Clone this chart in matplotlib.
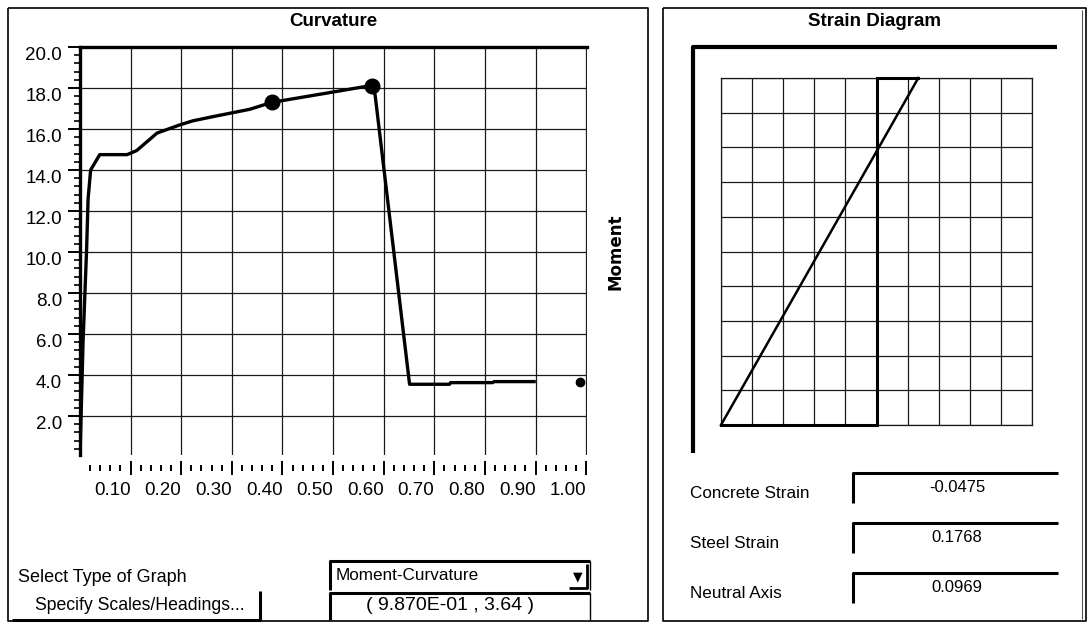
import matplotlib
matplotlib.use('Agg')
import matplotlib.pyplot as plt
from matplotlib.ticker import FixedLocator
from matplotlib.lines import Line2D

# ---------------- data ----------------
curvature = [0.0, 0.003, 0.006, 0.013, 0.016, 0.021, 0.039, 0.093, 0.112, 0.138,
             0.152, 0.197, 0.223, 0.262, 0.335, 0.379, 0.499, 0.558, 0.576, 0.583,
             0.651, 0.730, 0.732, 0.815, 0.818, 0.897]
moment = [0.0, 2.8, 5.6, 10.1, 12.6, 14.0, 14.75, 14.75, 14.95, 15.5,
          15.8, 16.2, 16.4, 16.6, 16.96, 17.3, 17.8, 18.05, 18.1, 17.65,
          3.55, 3.55, 3.63, 3.63, 3.68, 3.68]
marker_curvature = [0.379, 0.576]
marker_moment = [17.3, 18.1]
cursor_curvature = 0.987
cursor_moment = 3.64

x_ticks = [0.1, 0.2, 0.3, 0.4, 0.5, 0.6, 0.7, 0.8, 0.9, 1.0]
x_labels = ['0.10', '0.20', '0.30', '0.40', '0.50', '0.60', '0.70', '0.80', '0.90', '1.00']
y_ticks = [2.0, 4.0, 6.0, 8.0, 10.0, 12.0, 14.0, 16.0, 18.0, 20.0]
y_labels = ['2.0', '4.0', '6.0', '8.0', '10.0', '12.0', '14.0', '16.0', '18.0', '20.0']

concrete_strain = -0.0475
steel_strain = 0.1768
neutral_axis = 0.0969
strain_grid = list(range(0, 11))

graph_type = 'Moment-Curvature'

# ---------------- layout ----------------
W, H = 1091, 627
fig = plt.figure(figsize=(W / 100, H / 100), dpi=100)
fig.patch.set_facecolor('white')

SANS = ['Liberation Sans', 'DejaVu Sans']


def rect(x0, y0, x1, y1):
    return [x0 / W, 1 - y1 / H, (x1 - x0) / W, (y1 - y0) / H]


ui = fig.add_axes([0, 0, 1, 1])
ui.set_xlim(0, W)
ui.set_ylim(H, 0)
ui.axis('off')


def line(xs, ys, lw=1.0, color='black'):
    ui.add_line(Line2D(xs, ys, lw=lw, color=color, solid_capstyle='butt'))


# panel borders
line([8, 648, 648, 8, 8], [8, 8, 621, 621, 8], lw=1.2)
line([663, 1086, 1086, 663, 663], [8, 8, 621, 621, 8], lw=1.2)
line([1082, 1082], [10, 619], lw=0.8, color='#555555')

# titles
ui.text(333, 21, 'Curvature', ha='center', va='center', fontsize=13.5,
        fontweight='bold', family=SANS)
ui.text(874, 21, 'Strain Diagram', ha='center', va='center', fontsize=13.5,
        fontweight='bold', family=SANS)
ui.text(616, 252, 'Moment', ha='center', va='center', rotation=90,
        fontsize=12, fontweight='bold', family=['DejaVu Sans'])

# bottom controls (left panel)
ui.text(18, 577, 'Select Type of Graph', ha='left', va='center', fontsize=13,
        family=SANS)
ui.text(140, 606, 'Specify Scales/Headings...', ha='center', va='center',
        fontsize=12.7, family=SANS)
line([12, 260, 260], [620, 620, 591], lw=2.2)

# dropdown
line([330, 330, 590], [590, 561, 561], lw=2.2)
line([590, 590], [561, 590], lw=1.0)
ui.text(336, 576, graph_type, ha='left', va='center', fontsize=12.3, family=SANS)
line([587, 587, 569], [564, 588, 588], lw=2.0)
ui.text(578, 577, '\u25BC', ha='center', va='center', fontsize=9, family=['DejaVu Sans'])

# coordinates box
line([330, 330, 590], [620, 593, 593], lw=2.2)
line([590, 590], [593, 620], lw=1.0)
ui.text(450, 605, f'( {cursor_curvature:.3E} , {cursor_moment:.2f} )', ha='center',
        va='center', fontsize=14, family=SANS)

# right panel frame of strain diagram
line([693, 693, 1057], [453, 47, 47], lw=3)

# right panel text boxes
labels = ['Concrete Strain', 'Steel Strain', 'Neutral Axis']
values = [concrete_strain, steel_strain, neutral_axis]
for i, (lab, val) in enumerate(zip(labels, values)):
    top = 473 + 50 * i
    ui.text(690, top + 20, lab, ha='left', va='center', fontsize=12.3, family=SANS)
    line([853, 853, 1058], [top + 30, top, top], lw=2.2)
    ui.text(957, top + 15, f'{val:.4f}', ha='center', va='center', fontsize=12,
            family=SANS)

# ---------------- moment-curvature plot ----------------
ax = fig.add_axes(rect(80, 47, 587, 455))
ax.set_xlim(0, 1.0015)
ax.set_ylim(0.1, 20.0)
ax.plot(curvature, moment, color='black', lw=2.4, solid_joinstyle='round', zorder=3)
ax.plot(marker_curvature, marker_moment, 'o', ms=10.5, color='black', zorder=4)
ax.plot([cursor_curvature], [cursor_moment], 'o', ms=6, color='black', zorder=4)

ax.xaxis.set_major_locator(FixedLocator(x_ticks))
ax.set_xticklabels(x_labels)
ax.yaxis.set_major_locator(FixedLocator(y_ticks))
ax.set_yticklabels(y_labels)
ax.xaxis.set_minor_locator(FixedLocator([i * 0.02 for i in range(1, 50)]))
ax.yaxis.set_minor_locator(FixedLocator([i * 0.4 for i in range(1, 50)]))
ax.grid(which='major', color='#1a1a1a', lw=0.9, zorder=1)
ax.set_axisbelow(True)

ax.spines['right'].set_visible(False)
ax.spines['bottom'].set_color('none')
ax.spines['bottom'].set_position(('outward', 9.5))
ax.spines['left'].set_linewidth(2.4)
ax.spines['top'].set_linewidth(2.4)

ax.tick_params(axis='x', which='major', direction='inout', length=10, width=1.4,
               pad=5, labelsize=13.5)
ax.tick_params(axis='x', which='minor', direction='inout', length=4.5, width=1.4)
ax.tick_params(axis='y', which='major', direction='out', length=9, width=1.4,
               pad=4, labelsize=13.5)
ax.tick_params(axis='y', which='minor', direction='out', length=4.5, width=1.2)
for lab in ax.get_xticklabels():
    lab.set_ha('right')
    lab.set_family(SANS)
for lab in ax.get_yticklabels():
    lab.set_va('top')
    lab.set_family(SANS)

# ---------------- strain diagram ----------------
sx = fig.add_axes(rect(721, 78, 1032, 425))
sx.set_xlim(0, 10)
sx.set_ylim(0, 10)
sx.xaxis.set_major_locator(FixedLocator(strain_grid))
sx.yaxis.set_major_locator(FixedLocator(strain_grid))
sx.tick_params(which='both', length=0, labelbottom=False, labelleft=False)
sx.grid(color='#1a1a1a', lw=0.9)
for s in sx.spines.values():
    s.set_linewidth(0.9)
    s.set_color('#1a1a1a')

centre = 5.0
scale = centre / steel_strain
x_bottom = centre - steel_strain * scale
x_top = centre - concrete_strain * scale
sx.plot([x_bottom, centre, centre, x_top], [0, 0, 10, 10], color='black', lw=2.2,
        solid_joinstyle='miter', clip_on=False, zorder=3)
sx.plot([x_bottom, x_top], [0, 10], color='black', lw=1.8, clip_on=False, zorder=3)

fig.savefig('out.png', dpi=100)
